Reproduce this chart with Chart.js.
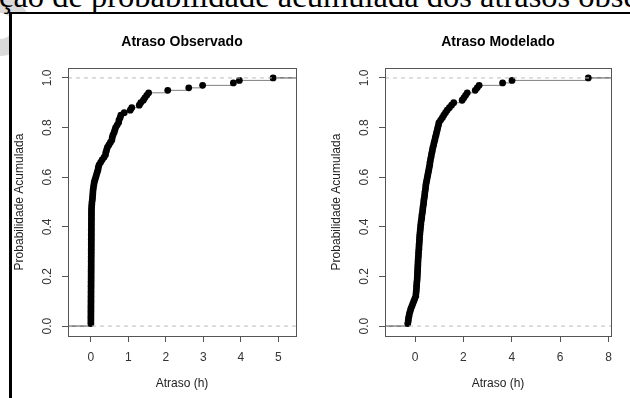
<!DOCTYPE html>
<html>
<head>
<meta charset="utf-8">
<script src="https://cdn.jsdelivr.net/npm/chart.js@4.4.1/dist/chart.umd.min.js"></script>
<style>
html, body { margin: 0; padding: 0; background: #fff; }
#pagina { position: relative; width: 630px; height: 398px; overflow: hidden; background: #fff; }
#anel { position: absolute; left: -30px; top: -4px; width: 26px; height: 26px; border: 17px solid #dadada; border-radius: 50%; }
#figura { position: absolute; left: 9px; top: 12px; width: 640px; height: 400px; border-left: 3px solid #000; border-top: 2px solid #000; background: #fff; }
#titulo { position: absolute; left: -1px; top: -20px; font-family: "Liberation Serif", "Times New Roman", serif; font-size: 32.5px; line-height: 32.5px; white-space: nowrap; color: #000; }
canvas { position: absolute; top: 0; }
#grafico1 { left: 0; }
#grafico2 { left: 315px; }
</style>
</head>
<body>
<div id="pagina">
  <div id="anel"></div>
  <div id="figura"></div>
  <div id="titulo">ção de probabilidade acumulada dos atrasos observados</div>
  <canvas id="grafico1" width="315" height="398"></canvas>
  <canvas id="grafico2" width="315" height="398"></canvas>
</div>
<script>
// atrasos observados (h), ordenados
const atrasoObservado = [
  0.0000, 0.0004, 0.0007, 0.0010, 0.0014, 0.0017, 0.0020, 0.0024, 0.0028, 0.0031,
  0.0035, 0.0038, 0.0042, 0.0045, 0.0049, 0.0052, 0.0056, 0.0060, 0.0063, 0.0067,
  0.0070, 0.0074, 0.0078, 0.0081, 0.0085, 0.0088, 0.0092, 0.0095, 0.0099, 0.0103,
  0.0106, 0.0110, 0.0113, 0.0117, 0.0120, 0.0124, 0.0128, 0.0131, 0.0135, 0.0138,
  0.0142, 0.0145, 0.0149, 0.0153, 0.0156, 0.0160, 0.0165,
  0.02, 0.025, 0.03, 0.04, 0.045, 0.05, 0.055, 0.06, 0.07, 0.08,
  0.09, 0.11, 0.13, 0.15, 0.17, 0.19, 0.20, 0.22, 0.26, 0.30,
  0.35, 0.39, 0.40, 0.42, 0.44, 0.48, 0.52, 0.56, 0.57, 0.59,
  0.62, 0.64, 0.66, 0.70, 0.74, 0.75, 0.78, 0.80, 0.89, 1.05,
  1.09, 1.29, 1.33, 1.40, 1.44, 1.49, 1.54, 2.05, 2.61, 2.98,
  3.80, 3.96, 4.86
];

// atrasos modelados (h), ordenados
const atrasoModelado = [
  -0.30, -0.28, -0.27, -0.25, -0.23, -0.20, -0.17, -0.13, -0.09, -0.05,
  -0.01, 0.03, 0.04, 0.05, 0.06, 0.065, 0.07, 0.08, 0.09, 0.095,
  0.10, 0.105, 0.11, 0.115, 0.12, 0.125, 0.13, 0.14, 0.145, 0.15,
  0.16, 0.165, 0.17, 0.18, 0.185, 0.19, 0.20, 0.21, 0.22, 0.23,
  0.24, 0.25, 0.27, 0.28, 0.29, 0.31, 0.32, 0.33, 0.35, 0.36,
  0.37, 0.39, 0.40, 0.41, 0.43, 0.44, 0.45, 0.47, 0.49, 0.51,
  0.53, 0.55, 0.57, 0.59, 0.61, 0.62, 0.64, 0.66, 0.68, 0.70,
  0.72, 0.74, 0.77, 0.79, 0.82, 0.84, 0.87, 0.89, 0.92, 0.94,
  0.97, 0.99, 1.06, 1.13, 1.19, 1.26, 1.33, 1.42, 1.51, 1.60,
  1.95, 2.02, 2.09, 2.16, 2.49, 2.57, 2.65, 3.62, 4.01, 7.16
];

const ticksX1 = [0, 1, 2, 3, 4, 5];
const ticksX2 = [0, 2, 4, 6, 8];
const ticksY = [0, 0.2, 0.4, 0.6, 0.8, 1.0];
const titulos = ["Atraso Observado", "Atraso Modelado"];
const rotuloX = "Atraso (h)";
const rotuloY = "Probabilidade Acumulada";

const fonteR = "'Liberation Sans', Arial, sans-serif";

function pontosEcdf(valores) {
  const n = valores.length;
  return valores.map((v, i) => ({ x: v, y: (i + 1) / n }));
}

function degrausEcdf(valores) {
  const n = valores.length;
  const pts = [];
  for (let i = 0; i < n - 1; i++) {
    const f = (i + 1) / n;
    pts.push({ x: valores[i], y: f }, { x: valores[i + 1], y: f }, { x: valores[i + 1], y: null });
  }
  return pts;
}

function pontasEcdf(valores, xmin, xmax) {
  const n = valores.length;
  return [
    { x: xmin, y: 0 }, { x: valores[0], y: 0 }, { x: valores[0], y: null },
    { x: valores[n - 1], y: 1 }, { x: xmax, y: 1 }
  ];
}

const caixa = {
  id: "caixa",
  afterDatasetsDraw(chart) {
    const a = chart.chartArea;
    const ctx = chart.ctx;
    ctx.save();
    ctx.strokeStyle = "#555";
    ctx.lineWidth = 1;
    ctx.strokeRect(Math.round(a.left) + 0.5, Math.round(a.top) + 0.5,
      Math.round(a.right) - Math.round(a.left), Math.round(a.bottom) - Math.round(a.top));
    ctx.restore();
  }
};

function criarGrafico(id, valores, xmin, xmax, ticksX, titulo, larguraY, padTituloY) {
  const linhaTracejada = (y) => ({
    type: "line",
    data: [{ x: xmin, y: y }, { x: xmax, y: y }],
    borderColor: "#bebebe",
    borderWidth: 1,
    borderDash: [4, 4],
    pointRadius: 0,
    showLine: true
  });
  const config = {
    type: "scatter",
    data: {
      datasets: [
        linhaTracejada(0),
        linhaTracejada(1),
        {
          data: pontosEcdf(valores),
          pointRadius: 3.4,
          pointBackgroundColor: "#000",
          pointBorderWidth: 0,
          borderColor: "#000"
        },
        {
          data: pontasEcdf(valores, xmin, xmax),
          showLine: true,
          borderColor: "#222",
          borderWidth: 1,
          pointRadius: 0
        },
        {
          data: degrausEcdf(valores),
          showLine: true,
          borderColor: "#808080",
          borderWidth: 1,
          pointRadius: 0
        }
      ]
    },
    options: {
      responsive: false,
      animation: false,
      devicePixelRatio: 1,
      layout: { padding: { left: 0, right: 19, top: 20, bottom: 0 } },
      plugins: {
        legend: { display: false },
        tooltip: { enabled: false },
        title: {
          display: true,
          text: titulo,
          fullSize: false,
          color: "#000",
          font: { family: fonteR, size: 14, weight: "bold" },
          padding: { top: 13.4, bottom: 17.8 }
        }
      },
      scales: {
        x: {
          type: "linear",
          min: xmin,
          max: xmax,
          afterBuildTicks: (s) => { s.ticks = ticksX.map((v) => ({ value: v })); },
          afterFit: (s) => { s.height = 62; },
          grid: { drawOnChartArea: false, drawTicks: true, tickLength: 6, color: "#555" },
          border: { display: false },
          ticks: { color: "#333", padding: 8, font: { family: fonteR, size: 12 }, maxRotation: 0 },
          title: { display: true, text: rotuloX, color: "#222", font: { family: fonteR, size: 12 }, padding: { top: 0, bottom: 7.5 } }
        },
        y: {
          type: "linear",
          min: -0.04,
          max: 1.04,
          afterBuildTicks: (s) => { s.ticks = ticksY.map((v) => ({ value: v })); },
          afterFit: (s) => { s.width = larguraY; },
          grid: { drawOnChartArea: false, drawTicks: true, tickLength: 6, color: "#555" },
          border: { display: false },
          ticks: {
            color: "#333", padding: 5.5, crossAlign: "center",
            minRotation: 90, maxRotation: 90,
            font: { family: fonteR, size: 12 },
            callback: (v) => v.toFixed(1)
          },
          title: { display: true, text: rotuloY, color: "#222", font: { family: fonteR, size: 12 }, padding: { top: padTituloY, bottom: 0 } }
        }
      }
    },
    plugins: [caixa]
  };
  return new Chart(document.getElementById(id), config);
}

criarGrafico("grafico1", atrasoObservado, -0.61, 5.47, ticksX1, titulos[0], 68, 12.8);
criarGrafico("grafico2", atrasoModelado, -1.24, 8.1, ticksX2, titulos[1], 70, 14.8);
</script>
</body>
</html>
